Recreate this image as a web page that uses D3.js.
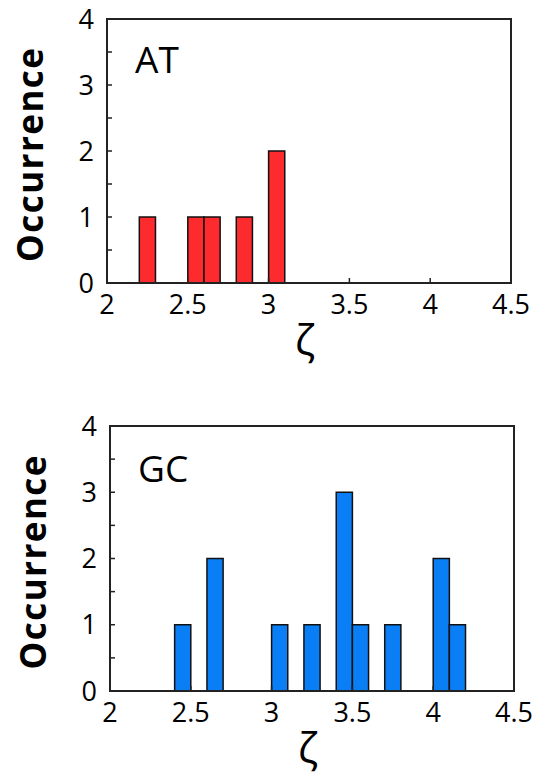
<!DOCTYPE html>
<html>
<head>
<meta charset="utf-8">
<script src="https://cdn.jsdelivr.net/npm/d3@7"></script>
<style>
  html, body { margin: 0; padding: 0; background: #fff; }
  svg { display: block; }
  text { font-family: "Open Sans", sans-serif; fill: #000; }
</style>
</head>
<body>
<svg id="chart" width="533" height="774"></svg>
<script>
// ---- data ----
const binWidth = 0.1;
const atBinStarts = [2.2, 2.5, 2.6, 2.8, 3.0];
const atCounts    = [1, 1, 1, 1, 2];
const gcBinStarts = [2.4, 2.6, 3.0, 3.2, 3.4, 3.5, 3.7, 4.0, 4.1];
const gcCounts    = [1, 2, 1, 1, 3, 1, 1, 2, 1];
const xTicks = [2, 2.5, 3, 3.5, 4, 4.5];
const yTicks = [0, 1, 2, 3, 4];
const xDomain = [2, 4.5];
const yDomain = [0, 4];
const yLabel = "Occurrence";
const xLabel = "ζ";

const svg = d3.select("#chart");

function panel(cfg) {
  const x = d3.scaleLinear().domain(xDomain).range([cfg.x0, cfg.x1]);
  const y = d3.scaleLinear().domain(yDomain).range([cfg.y1, cfg.y0]);
  const g = svg.append("g");

  // bars
  const data = cfg.starts.map((s, i) => ({ s, c: cfg.counts[i] }));
  g.selectAll("rect.bar").data(data).enter().append("rect")
    .attr("class", "bar")
    .attr("x", d => x(d.s))
    .attr("width", d => x(d.s + binWidth) - x(d.s))
    .attr("y", d => y(d.c))
    .attr("height", d => y(0) - y(d.c))
    .attr("fill", cfg.color)
    .attr("stroke", "#111")
    .attr("stroke-width", 1.5);

  // minor inward ticks
  const xMinor = d3.range(2, 4.51, 0.5);
  const yMinor = d3.range(0, 4.01, 0.5);
  g.selectAll("line.xt").data(xMinor).enter().append("line")
    .attr("x1", d => x(d)).attr("x2", d => x(d))
    .attr("y1", y(0)).attr("y2", y(0) - 5)
    .attr("stroke", "#222").attr("stroke-width", 1.5);
  g.selectAll("line.yt").data(yMinor).enter().append("line")
    .attr("x1", x(2)).attr("x2", x(2) + 5)
    .attr("y1", d => y(d)).attr("y2", d => y(d))
    .attr("stroke", "#222").attr("stroke-width", 1.5);

  // frame
  g.append("rect")
    .attr("x", cfg.x0).attr("y", cfg.y0)
    .attr("width", cfg.x1 - cfg.x0).attr("height", cfg.y1 - cfg.y0)
    .attr("fill", "none").attr("stroke", "#222").attr("stroke-width", 2);

  // tick labels
  g.selectAll("text.xl").data(xTicks).enter().append("text")
    .attr("x", d => x(d)).attr("y", y(0) + 31)
    .attr("text-anchor", "middle")
    .attr("font-size", 27)
    .text(d => d);
  g.selectAll("text.yl").data(yTicks).enter().append("text")
    .attr("x", cfg.x0 - 13).attr("y", d => y(d))
    .attr("dy", "0.36em")
    .attr("text-anchor", "end")
    .attr("font-size", 27)
    .text(d => d);

  // panel label
  g.append("text")
    .attr("x", cfg.x0 + 28).attr("y", cfg.labelY)
    .attr("font-size", 37)
    .text(cfg.label);

  // axis titles
  g.append("text")
    .attr("transform", `translate(${cfg.x0 - 64},${(cfg.y0 + cfg.y1) / 2 + 4}) rotate(-90)`)
    .attr("text-anchor", "middle")
    .attr("font-size", 35)
    .attr("font-weight", "bold")
    .attr("textLength", 214)
    .attr("lengthAdjust", "spacing")
    .text(yLabel);
  g.append("text")
    .attr("x", (cfg.x0 + cfg.x1) / 2 - 4).attr("y", cfg.y1 + 72)
    .attr("text-anchor", "middle")
    .attr("font-size", 42)
    .text(xLabel);
}

panel({ x0: 107, x1: 511, y0: 19, y1: 283, starts: atBinStarts, counts: atCounts,
        color: "#fe2b2e", label: "AT", labelY: 73 });
panel({ x0: 110, x1: 514, y0: 426, y1: 691, starts: gcBinStarts, counts: gcCounts,
        color: "#0a7ff5", label: "GC", labelY: 482 });
</script>
</body>
</html>
